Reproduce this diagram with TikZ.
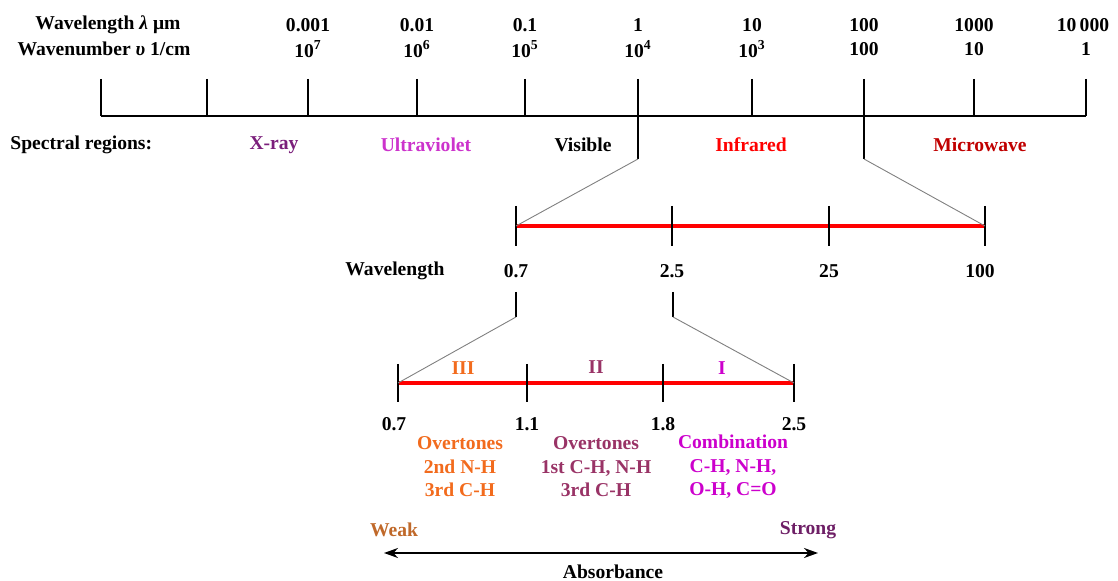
\documentclass[tikz,border=0pt]{standalone}
\usepackage{fontspec}
\setmainfont{Liberation Serif}
\usetikzlibrary{arrows.meta}
\definecolor{cxray}{HTML}{7B1F7B}
\definecolor{cuv}{HTML}{CC33CC}
\definecolor{cir}{HTML}{FF0000}
\definecolor{cmw}{HTML}{C00000}
\definecolor{corange}{HTML}{F26B1D}
\definecolor{cplum}{HTML}{993366}
\definecolor{cmag}{HTML}{CC00CC}
\definecolor{cweak}{HTML}{C0692A}
\definecolor{cstrong}{HTML}{6E1F66}
\tikzset{
  lbl/.style={font=\fontsize{9.8}{11.6}\selectfont\bfseries, inner sep=0pt, align=center},
  axisline/.style={line width=1pt, black},
  tickline/.style={line width=0.9pt, black},
  redline/.style={line width=2pt, red},
  zoomline/.style={line width=0.45pt, gray},
}
\begin{document}
\begin{tikzpicture}[x=0.5pt,y=-0.5pt]
\useasboundingbox (0,0) rectangle (1118,581);

% ---------- top axis ----------
\coordinate (a0) at (101,116);
\coordinate (a9) at (1086,116);
\draw[axisline] (a0) -- (a9);
\foreach \x in {101,207,308,417,525,752,974,1086}
  \draw[tickline] (\x,79) -- (\x,116);
\coordinate (vtop) at (638,79);
\coordinate (vbot) at (638,159);
\coordinate (mtop) at (864,79);
\coordinate (mbot) at (864,159);
\draw[tickline] (vtop) -- (vbot);
\draw[tickline] (mtop) -- (mbot);

\node[lbl] (wl) at (108,25) {Wavelength \textit{λ} μm};
\node[lbl] (wn) at (104,49) {Wavenumber \textit{υ} 1/cm};
\node[lbl] (l1) at (308,25) {0.001};
\node[lbl] (n1) at (308,49) {10\textsuperscript{7}};
\node[lbl] (l2) at (417,25) {0.01};
\node[lbl] (n2) at (417,49) {10\textsuperscript{6}};
\node[lbl] (l3) at (525,25) {0.1};
\node[lbl] (n3) at (525,49) {10\textsuperscript{5}};
\node[lbl] (l4) at (638,25) {1};
\node[lbl] (n4) at (638,49) {10\textsuperscript{4}};
\node[lbl] (l5) at (752,25) {10};
\node[lbl] (n5) at (752,49) {10\textsuperscript{3}};
\node[lbl] (l6) at (864,25) {100};
\node[lbl] (n6) at (864,49) {100};
\node[lbl] (l7) at (974,25) {1000};
\node[lbl] (n7) at (974,49) {10};
\node[lbl] (l8) at (1083,25) {10\,000};
\node[lbl] (n8) at (1086,49) {1};

\node[lbl, anchor=west] (sr) at (10,145) {Spectral regions:};
\node[lbl, text=cxray] (xr) at (274,145) {X-ray};
\node[lbl, text=cuv] (uv) at (426,145) {Ultraviolet};
\node[lbl] (vis) at (583,145) {Visible};
\node[lbl, text=cir] (ir) at (751,145) {Infrared};
\node[lbl, text=cmw] (mw) at (980,145) {Microwave};

% ---------- middle axis ----------
\coordinate (b0) at (516,226);
\coordinate (b3) at (985,226);
\draw[redline] (b0) -- (b3);
\foreach \x in {516,672,829,985}
  \draw[tickline] (\x,206) -- (\x,246);
\draw[zoomline] (vbot) -- (b0);
\draw[zoomline] (mbot) -- (b3);

\node[lbl] (wl2) at (395,271) {Wavelength};
\node[lbl] (m1) at (516,271) {0.7};
\node[lbl] (m2) at (672,271) {2.5};
\node[lbl] (m3) at (829,271) {25};
\node[lbl] (m4) at (980,271) {100};

\coordinate (p1top) at (516,292);
\coordinate (p1bot) at (516,317);
\coordinate (p2top) at (673,292);
\coordinate (p2bot) at (673,317);
\draw[tickline] (p1top) -- (p1bot);
\draw[tickline] (p2top) -- (p2bot);

% ---------- lower axis ----------
\coordinate (c0) at (398,383);
\coordinate (c3) at (794,383);
\draw[redline] (c0) -- (c3);
\foreach \x in {398,527,663,794}
  \draw[tickline] (\x,364) -- (\x,402);
\draw[zoomline] (p1bot) -- (c0);
\draw[zoomline] (p2bot) -- (c3);

\node[lbl, text=corange] (r3) at (463,368) {III};
\node[lbl, text=cplum] (r2) at (596,367) {II};
\node[lbl, text=cmag] (r1) at (722,368) {I};

\node[lbl] (k1) at (394,424) {0.7};
\node[lbl] (k2) at (527,424) {1.1};
\node[lbl] (k3) at (663,424) {1.8};
\node[lbl] (k4) at (794,424) {2.5};

\node[lbl, text=corange, font=\fontsize{9.8}{11.8}\selectfont\bfseries] (ov2) at (460,467) {Overtones\\2nd N-H\\3rd C-H};
\node[lbl, text=cplum, font=\fontsize{9.8}{11.8}\selectfont\bfseries] (ov1) at (596,467) {Overtones\\1st C-H, N-H\\3rd C-H};
\node[lbl, text=cmag, font=\fontsize{9.8}{11.8}\selectfont\bfseries] (comb) at (733,467) {Combination\\C-H, N-H,\\O-H, C=O};

\node[lbl, text=cweak] (weak) at (394,530) {Weak};
\node[lbl, text=cstrong] (strong) at (808,530) {Strong};
\coordinate (arL) at (384,553);
\coordinate (arR) at (818,553);
\draw[line width=1pt, {Stealth[length=7pt,width=5pt]}-{Stealth[length=7pt,width=5pt]}] (arL) -- (arR);
\node[lbl] (abs) at (613,572) {Absorbance};
\end{tikzpicture}
\end{document}
